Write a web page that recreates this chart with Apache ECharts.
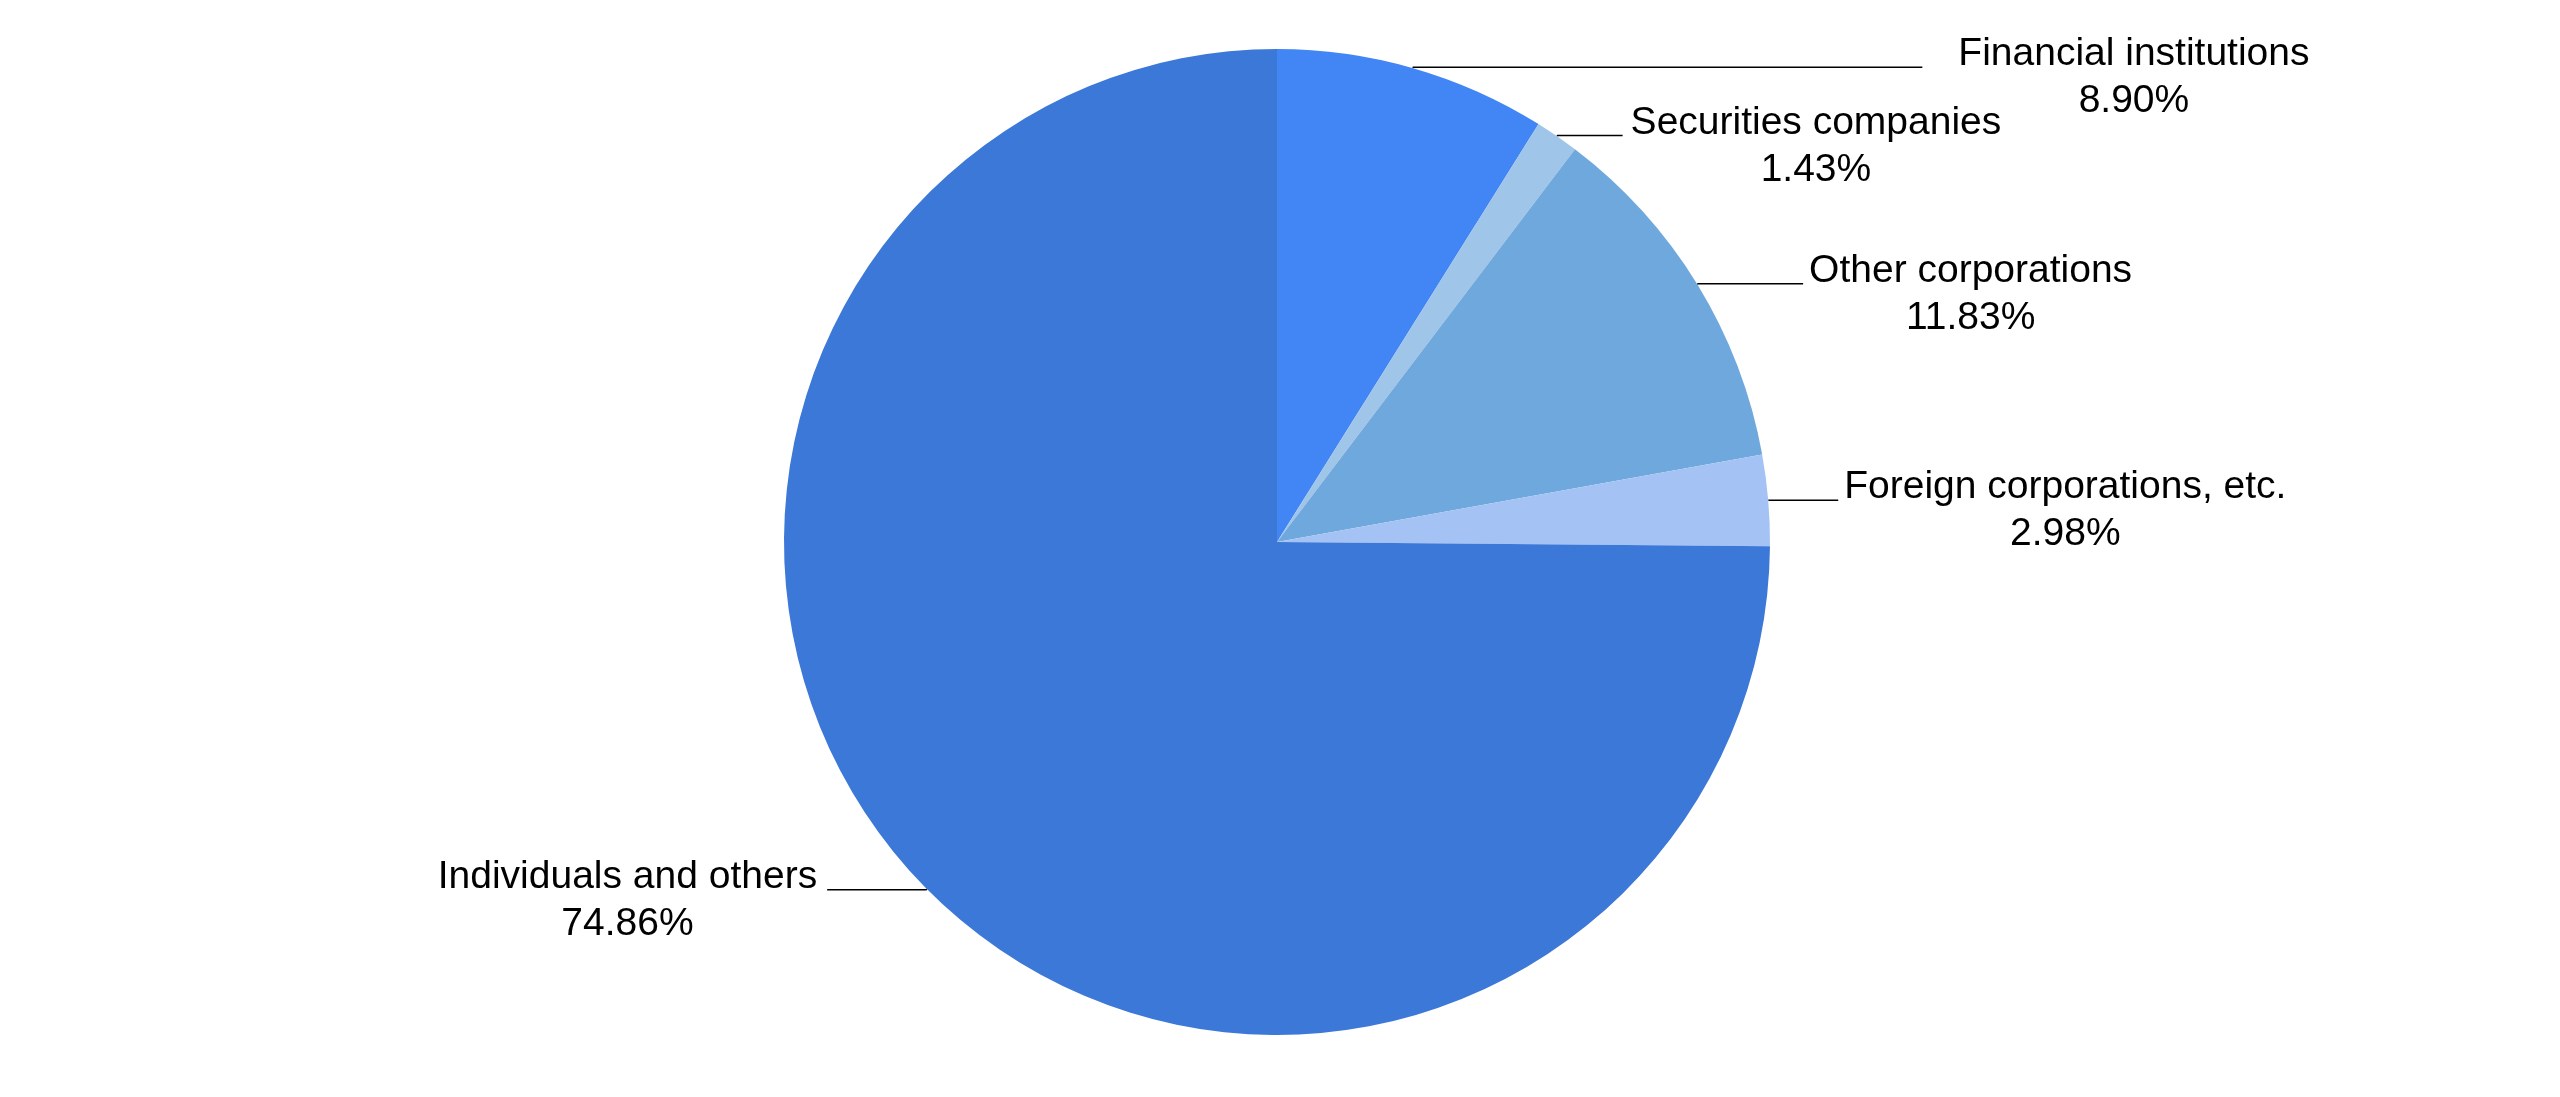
<!DOCTYPE html>
<html><head><meta charset="utf-8">
<script src="https://cdn.jsdelivr.net/npm/echarts@6/dist/echarts.min.js"></script>
<style>html,body{margin:0;padding:0;background:#fff}#c{width:2560px;height:1097px}</style>
</head><body><div id="c"></div>
<script>
const categories = ['Financial institutions', 'Securities companies', 'Other corporations', 'Foreign corporations, etc.', 'Individuals and others'];
const shares = [8.90, 1.43, 11.83, 2.98, 74.86];
const sliceColors = ['#4285F4', '#9FC5E8', '#6FA8DC', '#A4C2F4', '#3C78D8'];
const leaderLength2 = [509, 65, 105, 69, 99];
const labelGap = [36, 8, 6, 6, 10];

const chart = echarts.init(document.getElementById('c'), null, {renderer: 'canvas'});
const data = categories.map((name, i) => ({
  name: name,
  value: shares[i],
  itemStyle: {color: sliceColors[i]},
  label: {distanceToLabelLine: labelGap[i]},
  labelLine: {length: 1, length2: leaderLength2[i]}
}));
chart.setOption({
  animation: false,
  backgroundColor: '#ffffff',
  series: [{
    type: 'pie',
    center: [1277, 542],
    radius: [0, 493],
    startAngle: 90,
    clockwise: true,
    avoidLabelOverlap: false,
    labelLayout: {hideOverlap: false},
    itemStyle: {borderWidth: 0},
    emphasis: {disabled: true},
    label: {
      show: true,
      position: 'outside',
      color: '#000000',
      fontFamily: '"Liberation Sans", Arial, sans-serif',
      fontSize: 39,
      lineHeight: 47,
      padding: [22, 0, 0, 0],
      formatter: p => '{t|' + p.name + '}\n{t|' + p.value.toFixed(2) + '%}',
      rich: {
        t: {align: 'center', color: '#000000', fontFamily: '"Liberation Sans", Arial, sans-serif', fontSize: 39, lineHeight: 47}
      }
    },
    labelLine: {
      show: true,
      smooth: false,
      minTurnAngle: 0,
      maxSurfaceAngle: 180,
      lineStyle: {color: '#000000', width: 1.5}
    },
    data: data
  }]
});
</script>
</body></html>
